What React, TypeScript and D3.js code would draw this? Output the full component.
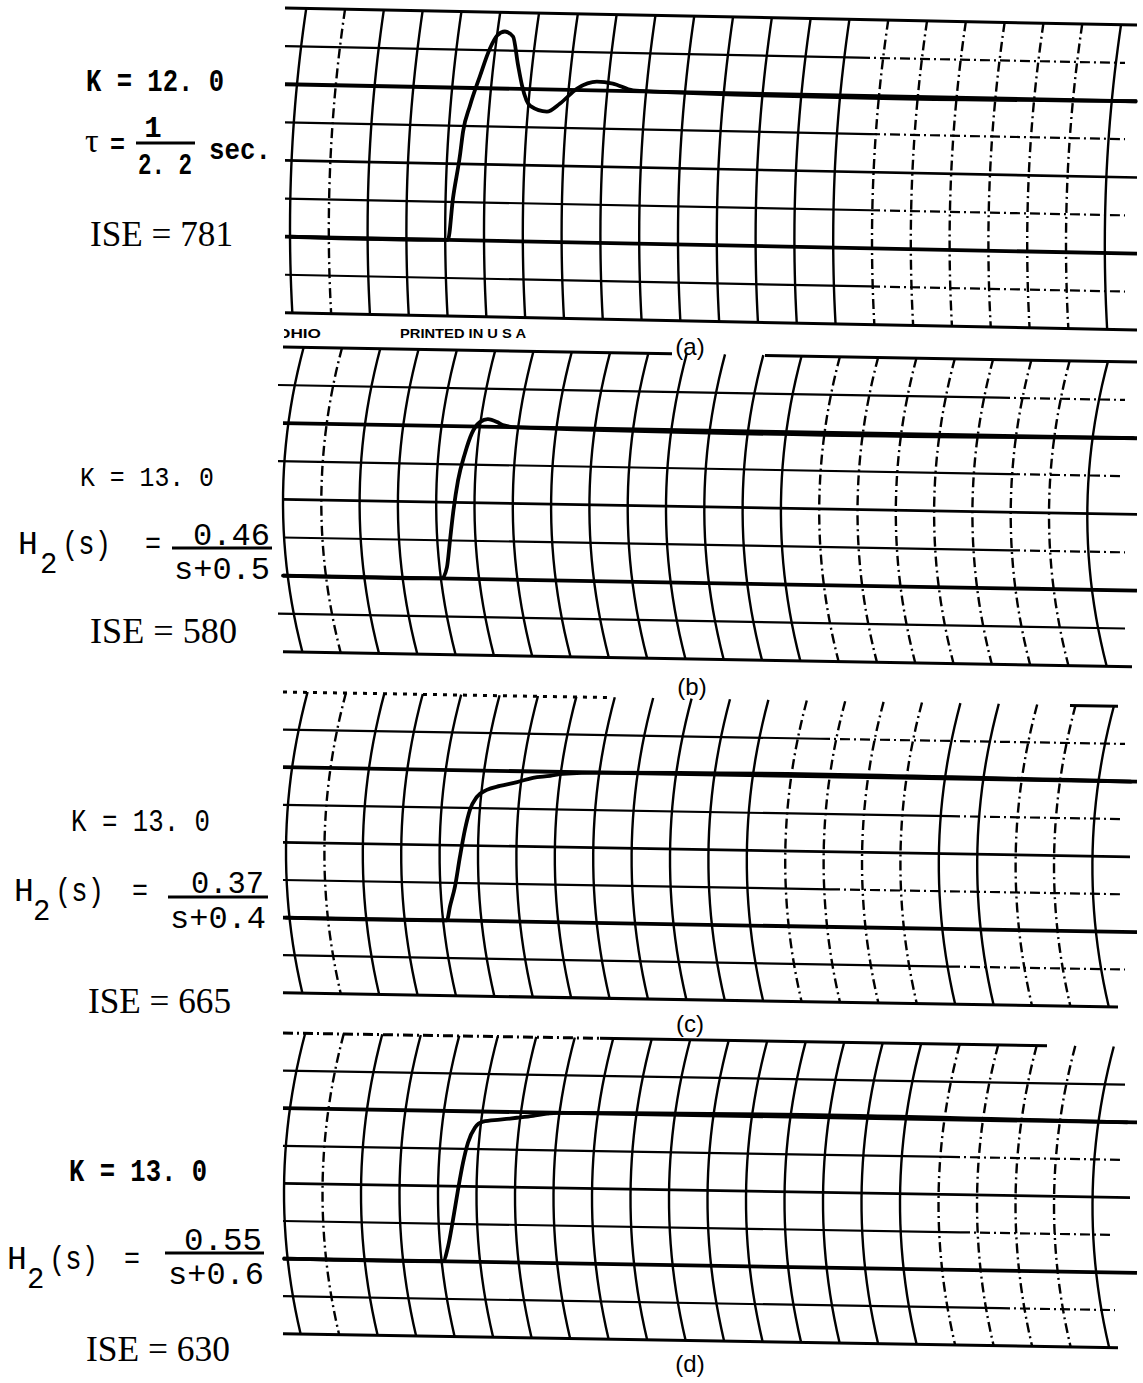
import React from 'react';
import * as d3 from 'd3';

// ---------------- data ----------------
const panelNames = ['(a)', '(b)', '(c)', '(d)'];
const gainLabels = ['K = 12. 0', 'K = 13. 0', 'K = 13. 0', 'K = 13. 0'];
const iseLabels = ['ISE = 781', 'ISE = 580', 'ISE = 665', 'ISE = 630'];
const h2Numerators = ['0.46', '0.37', '0.55'];
const h2Denominators = ['s+0.5', 's+0.4', 's+0.6'];
const tauNumerator = '1';
const tauDenominator = '2. 2';
const paperImprint = ['OHIO', 'PRINTED IN U S A'];

// chart paper: 22 time divisions, 8 amplitude divisions
const gridColumns = d3.range(22);
const gridRows = d3.range(9);
const preStepRow = 6; // level before the step (in rows from the top rule)

// step responses: time in paper divisions, response in divisions above the pre-step level
const timeA = [0, 4.07, 4.2, 4.38, 4.46, 4.64, 4.9, 5.15, 5.34, 5.54, 5.75, 5.88, 5.98, 6.19, 6.62, 6.96, 7.4, 7.91, 8.32, 8.84, 9.36, 21.8];
const respA = [0, 0, 1.09, 2.22, 2.85, 3.54, 4.33, 5.04, 5.39, 5.5, 5.37, 4.61, 4.09, 3.56, 3.42, 3.64, 4.04, 4.23, 4.19, 4.02, 4.0, 4.0];
const timeB = [0, 4.15, 4.28, 4.36, 4.44, 4.57, 4.75, 4.93, 5.14, 5.35, 5.59, 5.74, 6.11, 22.2];
const respB = [0, 0, 0.29, 1.0, 1.71, 2.58, 3.29, 3.82, 4.12, 4.2, 4.13, 4.05, 4.0, 4.0];
const timeC = [0, 4.19, 4.27, 4.4, 4.53, 4.66, 4.79, 4.97, 5.23, 5.57, 6.02, 6.43, 6.88, 7.21, 8.18, 22.0];
const respC = [0, 0, 0.37, 0.9, 1.7, 2.42, 2.95, 3.3, 3.49, 3.6, 3.71, 3.83, 3.89, 3.95, 4.0, 4.0];
const timeD = [0, 4.13, 4.26, 4.39, 4.52, 4.65, 4.78, 4.96, 5.17, 5.61, 6.05, 6.47, 6.83, 7.09, 21.9];
const respD = [0, 0, 0.39, 1.11, 1.91, 2.63, 3.17, 3.57, 3.73, 3.79, 3.85, 3.91, 3.97, 4.0, 4.0];
const seriesTime = [timeA, timeB, timeC, timeD];
const seriesResp = [respA, respB, respC, respD];

// ---------------- layout (positions / styles) ----------------
const W = 1143;
const H = 1383;
const MONO = "'Liberation Mono', 'DejaVu Sans Mono', monospace";
const SERIF = "'Liberation Serif', 'DejaVu Serif', serif";
const SANS = "'Liberation Sans', 'DejaVu Sans', sans-serif";

const layout = [
  { x0: 290, dx: 38.8, top: 8, dy: 38.1, tilt: 0.02, vRow: 5.8, R: 1500 },
  { x0: 283, dx: 38.3, top: 347, dy: 38.1, tilt: 0.0176, vRow: 4.07, R: 580 },
  { x0: 286, dx: 38.4, top: 692, dy: 37.6, tilt: 0.017, vRow: 4.28, R: 600 },
  { x0: 284, dx: 38.5, top: 1033, dy: 37.6, tilt: 0.0167, vRow: 4.25, R: 600 },
];

type Seg = [number, number, string?];
const rowSegs: Seg[][][] = [
  [
    [[285, 1137]],
    [[285, 860], [860, 1125, 'dash']],
    [[285, 1137]],
    [[285, 870], [870, 1125, 'dash']],
    [[285, 1137]],
    [[285, 870], [870, 1125, 'dash']],
    [[285, 1137]],
    [[285, 870], [870, 1125, 'dash']],
    [[285, 1137]],
  ],
  [
    [[283, 672], [765, 1137]],
    [[278, 1000], [1000, 1125, 'dash']],
    [[283, 1137]],
    [[278, 1010], [1010, 1120, 'dash']],
    [[283, 1137]],
    [[283, 1010], [1010, 1125, 'dash']],
    [[283, 1137]],
    [[278, 1125]],
    [[283, 1132]],
  ],
  [
    [[283, 610, 'dot'], [1070, 1118]],
    [[283, 820], [820, 1125, 'dash']],
    [[283, 1137]],
    [[283, 950], [950, 1120, 'dash']],
    [[283, 1130]],
    [[283, 830], [830, 1120, 'dash']],
    [[283, 1137]],
    [[283, 950], [950, 1125, 'dash']],
    [[283, 1118]],
  ],
  [
    [[283, 600, 'dash'], [600, 1047]],
    [[283, 1125]],
    [[283, 1137]],
    [[283, 950], [950, 1120, 'dash']],
    [[283, 1130]],
    [[283, 960], [960, 1110, 'dash']],
    [[283, 1137]],
    [[283, 1000], [1000, 1115, 'dash']],
    [[283, 1118]],
  ],
];
const dashedCols = [
  [1, 15, 16, 17, 18, 19, 20],
  [1, 14, 15, 16, 17, 18, 19, 20],
  [1, 13, 14, 15, 16, 19, 20],
  [1, 17, 18, 19, 20],
];
const rowWidth = (r: number) => (r === 2 || r === 6 ? 3.8 : r === 0 || r === 8 ? 3 : r === 4 ? 2.7 : 2.2);
const dashFor = (s?: string) => (s === 'dash' ? '10 4 2 4' : s === 'dot' ? '4 6' : undefined);

function Txt(p: any) {
  const { x, y, w, size, font, weight, anchor, children } = p;
  return (
    <text
      x={x}
      y={y}
      fontSize={size}
      fontFamily={font}
      fontWeight={weight || 'normal'}
      textAnchor={anchor || 'start'}
      textLength={w}
      lengthAdjust={w ? 'spacingAndGlyphs' : undefined}
      fill="#000"
    >
      {children}
    </text>
  );
}

function Panel({ i }: { i: number }) {
  const L = layout[i];
  const xs = d3.scaleLinear().domain([0, 21]).range([L.x0, L.x0 + 21 * L.dx]);
  const rs = d3.scaleLinear().domain([0, 8]).range([L.top, L.top + 8 * L.dy]);
  const rowY = (r: number, x: number) => rs(r) + L.tilt * (x - 283);
  const line = d3.line();

  const rows = gridRows.map((r) =>
    rowSegs[i][r].map((s, j) => (
      <path
        key={`r${r}-${j}`}
        d={line([
          [s[0], rowY(r, s[0])],
          [s[1], rowY(r, s[1])],
        ]) as string}
        stroke="#000"
        strokeWidth={rowWidth(r)}
        strokeDasharray={dashFor(s[2])}
        fill="none"
      />
    ))
  );

  const cols = gridColumns.map((k) => {
    const xv = xs(k);
    const yv = rowY(L.vRow, xv);
    const y0 = rowY(0, xv);
    const y1 = rowY(8, xv);
    const pts: [number, number][] = d3.range(0, 1.0001, 0.04).map((f) => {
      const y = y0 + f * (y1 - y0);
      return [xv + ((y - yv) * (y - yv)) / (2 * L.R), y];
    });
    return (
      <path
        key={`c${k}`}
        d={line(pts) as string}
        stroke="#000"
        strokeWidth={2.4}
        strokeDasharray={dashedCols[i].includes(k) ? '10 4 2 4' : undefined}
        fill="none"
      />
    );
  });

  const t = seriesTime[i];
  const v = seriesResp[i];
  const trace = d3
    .line<number>()
    .x((_, j) => xs(t[j]))
    .y((_, j) => rowY(preStepRow - v[j], xs(t[j])))
    .curve(d3.curveMonotoneX)(v) as string;

  return (
    <g>
      {rows}
      {cols}
      <path d={trace} stroke="#000" strokeWidth={3.8} fill="none" strokeLinejoin="round" strokeLinecap="round" />
    </g>
  );
}

function H2Label({ j, hx, by, sx, ex, bx0, bx1, barY, nx, nw, ny, dx, dw, dyb, subX }: any) {
  return (
    <g>
      <Txt x={hx} y={by} size={33} font={MONO}>H</Txt>
      <Txt x={subX} y={by + 19} size={29} font={MONO}>2</Txt>
      <Txt x={sx} y={by} w={49} size={33} font={MONO}>(s)</Txt>
      <Txt x={ex} y={by - 1} w={16} size={32} font={MONO}>=</Txt>
      <line x1={bx0} x2={bx1} y1={barY} y2={barY} stroke="#000" strokeWidth={2.8} />
      <Txt x={nx} y={ny} w={nw} size={32} font={MONO}>{h2Numerators[j]}</Txt>
      <Txt x={dx} y={dyb} w={dw} size={32} font={MONO}>{h2Denominators[j]}</Txt>
    </g>
  );
}

export default function App() {
  return (
    <svg
      width={W}
      height={H}
      viewBox={`0 0 ${W} ${H}`}
      style={{ position: 'absolute', left: 0, top: 0, background: '#fff' }}
    >
      <defs>
        <clipPath id="ohioClip">
          <rect x={284} y={300} width={200} height={60} />
        </clipPath>
      </defs>
      <rect x={0} y={0} width={W} height={H} fill="#fff" />
      {layout.map((_, i) => (
        <Panel key={i} i={i} />
      ))}

      {/* paper imprint under (a) */}
      <g clipPath="url(#ohioClip)">
        <Txt x={277} y={338} size={13} font={SANS} weight="bold" w={44}>{paperImprint[0]}</Txt>
      </g>
      <Txt x={400} y={338} size={12.5} font={SANS} weight="bold" w={126}>{paperImprint[1]}</Txt>

      {/* captions */}
      <Txt x={690} y={355} size={24} font={SANS} anchor="middle">{panelNames[0]}</Txt>
      <Txt x={692} y={695} size={24} font={SANS} anchor="middle">{panelNames[1]}</Txt>
      <Txt x={690} y={1032} size={24} font={SANS} anchor="middle">{panelNames[2]}</Txt>
      <Txt x={690} y={1372} size={24} font={SANS} anchor="middle">{panelNames[3]}</Txt>

      {/* panel (a) labels */}
      <Txt x={86} y={91} w={138} size={31} font={MONO} weight="bold">{gainLabels[0]}</Txt>
      <Txt x={85} y={152} size={34} font={SERIF}>τ</Txt>
      <Txt x={110} y={153} w={15} size={28} font={MONO} weight="bold">=</Txt>
      <Txt x={153} y={137} size={29} font={MONO} weight="bold" anchor="middle">{tauNumerator}</Txt>
      <line x1={136} x2={195} y1={143} y2={143} stroke="#000" strokeWidth={3.2} />
      <Txt x={138} y={174} w={54} size={30} font={MONO} weight="bold">{tauDenominator}</Txt>
      <Txt x={209} y={159} w={62} size={30} font={MONO} weight="bold">sec.</Txt>
      <Txt x={90} y={246} w={143} size={36} font={SERIF}>{iseLabels[0]}</Txt>

      {/* panel (b) labels */}
      <Txt x={80} y={486} w={134} size={28} font={MONO}>{gainLabels[1]}</Txt>
      <H2Label j={0} hx={18} subX={40} by={554} sx={62} ex={145} bx0={172} bx1={272} barY={548} nx={193} nw={77} ny={545} dx={174} dw={96} dyb={579} />
      <Txt x={90} y={643} w={147} size={35} font={SERIF}>{iseLabels[1]}</Txt>

      {/* panel (c) labels */}
      <Txt x={71} y={831} w={139} size={31} font={MONO}>{gainLabels[2]}</Txt>
      <H2Label j={1} hx={14} subX={33} by={901} sx={55} ex={132} bx0={168} bx1={268} barY={897} nx={191} nw={73} ny={893} dx={170} dw={96} dyb={928} />
      <Txt x={88} y={1013} w={143} size={36} font={SERIF}>{iseLabels[2]}</Txt>

      {/* panel (d) labels */}
      <Txt x={69} y={1181} w={138} size={31} font={MONO} weight="bold">{gainLabels[3]}</Txt>
      <H2Label j={2} hx={7} subX={27} by={1269} sx={49} ex={124} bx0={165} bx1={264} barY={1253} nx={184} nw={78} ny={1250} dx={168} dw={96} dyb={1284} />
      <Txt x={86} y={1361} w={144} size={36} font={SERIF}>{iseLabels[3]}</Txt>
    </svg>
  );
}
